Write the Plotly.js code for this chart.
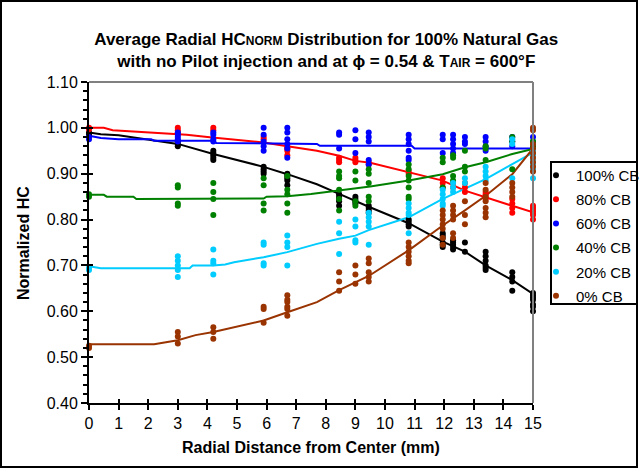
<!DOCTYPE html>
<html>
<head>
<meta charset="utf-8">
<script src="https://cdn.plot.ly/plotly-3.0.1.min.js"></script>
<style>
html,body{margin:0;padding:0;background:#fff;}
#chart{width:641px;height:470px;}
</style>
</head>
<body>
<div id="chart"></div>
<script>
// Radial measurement positions (mm)
const radialPositions = [0, 3, 4.2, 5.9, 6.7, 8.45, 9.0, 9.45, 10.8, 11.95, 12.3, 12.7, 13.4, 14.3, 15];

const seriesNames = ["100% CB", "80% CB", "60% CB", "40% CB", "20% CB", "0% CB"];
const seriesColors = ["#000000", "#FF0000", "#0000FF", "#008000", "#00CCFF", "#993300"];

// Measured normalized HC at each radial position (one list per position)
const cb100 = [
  [0.99, 0.985], [0.97, 0.965, 0.96], [0.95, 0.945, 0.94, 0.935, 0.93], [0.915, 0.91, 0.905, 0.90],
  [0.90, 0.895, 0.89, 0.885, 0.875], [0.855, 0.85, 0.845, 0.84, 0.83], [0.85, 0.845, 0.84, 0.835],
  [0.83, 0.825, 0.82, 0.815], [0.80, 0.795, 0.79, 0.785], [0.77, 0.765, 0.76, 0.75, 0.745, 0.74],
  [0.755, 0.75, 0.745, 0.74, 0.735], [0.75, 0.73], [0.73, 0.72, 0.71, 0.70, 0.695, 0.69],
  [0.685, 0.675, 0.665, 0.645], [0.64, 0.635, 0.63, 0.625, 0.615, 0.61, 0.60]
];
const cb80 = [
  [1.00, 0.997], [1.00, 0.995, 0.99], [1.00, 0.995], [0.98, 0.975], [0.96, 0.955, 0.95, 0.94],
  [0.935, 0.93, 0.925], [0.935, 0.93, 0.925], [0.925, 0.92], [0.905, 0.90], [0.89, 0.88, 0.87],
  [0.88, 0.87], [0.88, 0.87, 0.86], [0.86, 0.855, 0.85, 0.845], [0.845, 0.835, 0.825, 0.815],
  [0.83, 0.825, 0.82, 0.815, 0.81, 0.80]
];
const cb60 = [
  [0.98, 0.975], [0.99, 0.985, 0.98, 0.975, 0.97], [0.99, 0.985, 0.975, 0.97], [1.00, 0.985, 0.97, 0.96, 0.95],
  [1.00, 0.99, 0.975, 0.965, 0.955, 0.935], [0.99, 0.985, 0.955], [0.995, 0.975, 0.945],
  [0.99, 0.98, 0.97, 0.93, 0.92], [0.985, 0.975, 0.965, 0.95, 0.935, 0.93], [0.985, 0.975, 0.945],
  [0.985, 0.975, 0.965, 0.955, 0.945], [0.98, 0.97, 0.965], [0.98, 0.97, 0.96, 0.95],
  [0.98, 0.97, 0.96], [0.98, 0.97, 0.96]
];
const cb40 = [
  [0.855, 0.85], [0.875, 0.87, 0.835, 0.83], [0.88, 0.86, 0.845, 0.81], [0.89, 0.875, 0.835, 0.82],
  [0.895, 0.865, 0.855, 0.835, 0.815], [0.905, 0.895, 0.89, 0.865, 0.845, 0.82], [0.905, 0.885, 0.84, 0.83],
  [0.91, 0.90, 0.88, 0.85, 0.84], [0.92, 0.91, 0.895, 0.885, 0.87, 0.85, 0.845], [0.935, 0.925, 0.87],
  [0.94, 0.935, 0.895, 0.885], [0.95, 0.915, 0.905], [0.96, 0.955, 0.93], [0.98, 0.97, 0.91],
  [0.97, 0.96, 0.955]
];
const cb20 = [
  [0.695, 0.69], [0.72, 0.71, 0.70, 0.69, 0.675], [0.735, 0.71, 0.705, 0.68], [0.75, 0.745, 0.705, 0.70],
  [0.765, 0.75, 0.74, 0.70], [0.795, 0.77, 0.725], [0.80, 0.785, 0.755, 0.75],
  [0.815, 0.805, 0.795, 0.785, 0.745], [0.835, 0.825, 0.815, 0.81, 0.77], [0.865, 0.855, 0.845, 0.835, 0.83],
  [0.88, 0.87, 0.86], [0.89, 0.88], [0.915, 0.905, 0.895, 0.885], [0.975, 0.965, 0.89],
  [0.95, 0.94, 0.93, 0.92, 0.91, 0.89]
];
const cb0 = [
  [0.525, 0.52], [0.555, 0.545, 0.53], [0.565, 0.555, 0.54], [0.61, 0.605, 0.575],
  [0.635, 0.625, 0.62, 0.61, 0.605, 0.59], [0.685, 0.665, 0.645], [0.70, 0.68, 0.66],
  [0.715, 0.705, 0.685, 0.675, 0.665], [0.75, 0.74, 0.73, 0.72, 0.71, 0.705],
  [0.82, 0.81, 0.80, 0.79, 0.78, 0.76, 0.745], [0.83, 0.82, 0.81, 0.80, 0.77, 0.76], [0.84, 0.81, 0.79],
  [0.88, 0.865, 0.85, 0.84, 0.825, 0.815, 0.805], [0.88, 0.87, 0.86, 0.85],
  [1.00, 0.995, 0.965, 0.955, 0.945, 0.935, 0.925, 0.915, 0.905]
];

// Average (trend) curves
const fit100X = [0, 0.4, 1, 2, 3, 4.2, 5, 5.9, 6.7, 7.7, 8.45, 9, 9.45, 10.8, 11.95, 12.7, 13.4, 14.3, 15];
const fit100Y = [0.99, 0.986, 0.984, 0.975, 0.965, 0.943, 0.93, 0.915, 0.899, 0.877, 0.856, 0.84, 0.828, 0.792, 0.752, 0.73, 0.70, 0.668, 0.638];
const fit80X = [0, 0.5, 0.8, 2.2, 3.3, 4, 4.9, 5.9, 6.7, 7.7, 8.45, 9, 9.5, 10.8, 11.95, 12.7, 13.4, 14.3, 15];
const fit80Y = [1.0, 1.0, 0.995, 0.99, 0.985, 0.98, 0.975, 0.968, 0.96, 0.95, 0.939, 0.928, 0.924, 0.903, 0.885, 0.863, 0.848, 0.83, 0.816];
const fit60X = [0, 0.4, 1, 2.1, 2.2, 4.2, 4.3, 7.7, 7.8, 10.9, 11, 15];
const fit60Y = [0.983, 0.978, 0.975, 0.975, 0.972, 0.972, 0.967, 0.965, 0.961, 0.961, 0.955, 0.955];
const fit40X = [0, 0.5, 0.6, 1.5, 1.6, 5.9, 6, 6.7, 7.5, 8.45, 9, 9.5, 10.8, 11.95, 12.7, 13.4, 14.3, 15];
const fit40Y = [0.854, 0.854, 0.85, 0.85, 0.845, 0.846, 0.85, 0.851, 0.856, 0.863, 0.867, 0.872, 0.885, 0.899, 0.914, 0.925, 0.943, 0.954];
const fit20X = [0, 0.4, 3.4, 3.5, 4.2, 4.6, 4.9, 5.9, 6.7, 7.7, 8.45, 9, 9.45, 10.8, 11.95, 12.7, 13.4, 14.3, 15];
const fit20Y = [0.698, 0.694, 0.694, 0.70, 0.70, 0.702, 0.707, 0.718, 0.729, 0.747, 0.758, 0.765, 0.777, 0.805, 0.845, 0.867, 0.888, 0.921, 0.946];
const fit0X = [0, 2.2, 3, 3.6, 4.2, 4.9, 5.9, 6.7, 7.7, 8.45, 9, 9.45, 10.8, 11.95, 12.7, 13.4, 14.3, 15];
const fit0Y = [0.528, 0.528, 0.537, 0.548, 0.555, 0.565, 0.58, 0.598, 0.62, 0.646, 0.664, 0.677, 0.733, 0.787, 0.82, 0.852, 0.899, 0.955];

const yTickVals = [0.40, 0.50, 0.60, 0.70, 0.80, 0.90, 1.00, 1.10];
const xTickVals = [0, 1, 2, 3, 4, 5, 6, 7, 8, 9, 10, 11, 12, 13, 14, 15];

const measured = [cb100, cb80, cb60, cb40, cb20, cb0];
const fitsX = [fit100X, fit80X, fit60X, fit40X, fit20X, fit0X];
const fitsY = [fit100Y, fit80Y, fit60Y, fit40Y, fit20Y, fit0Y];

const FONT = "Arial, 'Liberation Sans', sans-serif";
const traces = [];
for (let s = 0; s < 6; s++) {
  traces.push({
    type: 'scatter', mode: 'lines', x: fitsX[s], y: fitsY[s],
    line: {color: seriesColors[s], width: 2}, showlegend: false, hoverinfo: 'skip', cliponaxis: false
  });
}
for (let s = 0; s < 6; s++) {
  const xs = [], ys = [];
  measured[s].forEach((vals, i) => vals.forEach(v => { xs.push(radialPositions[i]); ys.push(v); }));
  traces.push({
    type: 'scatter', mode: 'markers', name: seriesNames[s], x: xs, y: ys,
    marker: {color: seriesColors[s], size: 6}, cliponaxis: false, legendgroup: 'g' + s
  });
}
// helper trace for crossing tick marks
traces.push({type: 'scatter', mode: 'markers', x: [0], y: [0.4], xaxis: 'x2', yaxis: 'y2',
  marker: {opacity: 0}, showlegend: false, hoverinfo: 'skip'});

const L = 89, R = 533, T = 82, B = 403;
const px = v => (v - L) / (R - L);
const py = v => (B - v) / (B - T);

const layout = {
  width: 641, height: 470,
  margin: {l: L, r: 641 - R, t: T, b: 470 - B, pad: 0, autoexpand: false},
  paper_bgcolor: '#fff', plot_bgcolor: '#fff',
  font: {family: FONT, color: '#000', size: 15},
  title: {
    text: "<b>Average Radial HC<span style='font-size:12px'>NORM</span> Distribution for 100% Natural Gas<br>with no Pilot injection and at ϕ = 0.54 & T<span style='font-size:12px'>AIR</span> = 600°F</b>",
    font: {family: FONT, size: 17, color: '#000'},
    x: 0.509, xref: 'container', xanchor: 'center',
    y: 0.905, yref: 'container', yanchor: 'top'
  },
  xaxis: {
    range: [0, 15], tickvals: xTickVals, ticktext: xTickVals.map(String),
    showline: true, linecolor: '#000', linewidth: 2, ticks: 'outside', ticklen: 5, tickwidth: 2, tickcolor: '#000',
    showgrid: false, zeroline: false, tickfont: {family: FONT, size: 16}, automargin: false, fixedrange: true
  },
  yaxis: {
    range: [0.40, 1.10], tickvals: yTickVals, ticktext: yTickVals.map(v => v.toFixed(2)),
    showline: true, linecolor: '#000', linewidth: 2, ticks: 'outside', ticklen: 6, tickwidth: 2, tickcolor: '#000',
    minor: {dtick: 0.02, ticks: 'outside', ticklen: 4, tickwidth: 2, tickcolor: '#000', showgrid: false},
    showgrid: false, zeroline: false, tickfont: {family: FONT, size: 16}, automargin: false, fixedrange: true
  },
  xaxis2: {overlaying: 'x', anchor: 'y2', range: [0, 15], tickvals: xTickVals, ticks: 'inside', ticklen: 4, tickwidth: 2,
    tickcolor: '#000', showticklabels: false, showgrid: false, zeroline: false, showline: false},
  yaxis2: {overlaying: 'y', anchor: 'x2', range: [0.40, 1.10], tickvals: yTickVals, ticks: 'inside', ticklen: 4, tickwidth: 2,
    tickcolor: '#000', showticklabels: false, showgrid: false, zeroline: false, showline: false},
  showlegend: true,
  legend: {
    x: px(536), y: py(159), xanchor: 'left', yanchor: 'top',
    bgcolor: 'rgba(0,0,0,0)', borderwidth: 0, font: {family: FONT, size: 15},
    tracegroupgap: 1.6, itemsizing: 'trace'
  },
  annotations: [
    {text: '<b>Normalized HC</b>', xref: 'paper', yref: 'paper', x: px(24), y: py(243), textangle: -90,
      showarrow: false, font: {family: FONT, size: 16}, xanchor: 'center', yanchor: 'middle'},
    {text: '<b>Radial Distance from Center (mm)</b>', xref: 'paper', yref: 'paper', x: px(311), y: py(447),
      showarrow: false, font: {family: FONT, size: 16}, xanchor: 'center', yanchor: 'middle'}
  ],
  shapes: [
    {type: 'line', xref: 'paper', yref: 'paper', x0: 1, x1: 1, y0: 0, y1: 1, line: {color: '#808080', width: 2}},
    {type: 'line', xref: 'paper', yref: 'paper', x0: 0, x1: 1, y0: 1, y1: 1, line: {color: '#808080', width: 2}},
    {type: 'rect', xref: 'paper', yref: 'paper', x0: px(551), x1: px(637), y0: py(304), y1: py(162),
      line: {color: '#000', width: 2}},
    {type: 'rect', xref: 'paper', yref: 'paper', x0: px(1), x1: px(637), y0: py(467), y1: py(1),
      line: {color: '#000', width: 2}}
  ]
};

Plotly.newPlot('chart', traces, layout, {displayModeBar: false, staticPlot: true});
</script>
</body>
</html>
